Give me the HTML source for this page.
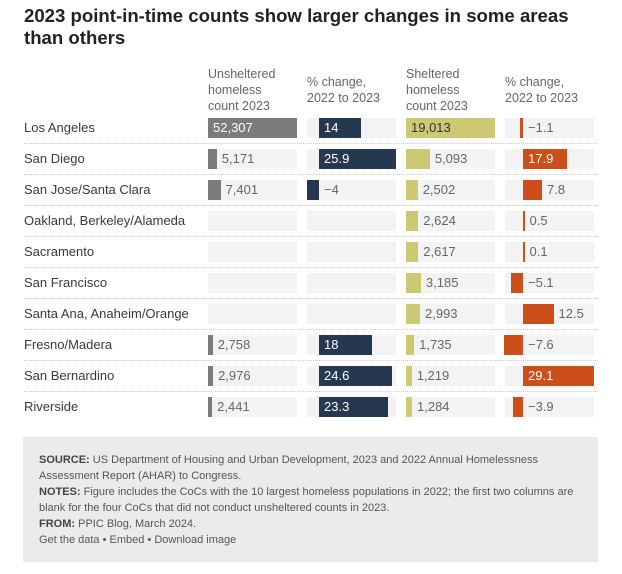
<!DOCTYPE html>
<html><head><meta charset="utf-8"><style>
body{margin:0;background:#fff;font-family:"Liberation Sans",sans-serif;}
#c{position:relative;width:622px;height:574px;overflow:hidden;}
.a{position:absolute;}
.t{font-weight:bold;font-size:18.6px;color:#222;left:24px;top:5px;line-height:22px;width:565px;}
.h{font-size:12.5px;color:#666;line-height:16px;top:66px;}
.lab{font-size:13px;color:#3a3a3a;left:24px;line-height:20px;}
.bg{background:#f3f3f3;height:20px;}
.b{height:20px;}
.v{font-size:13px;line-height:20px;color:#666;white-space:nowrap;}
.sep{left:24px;width:574px;border-top:1px dotted #ccc;height:0;}
.f{left:23px;top:437px;width:575px;height:125px;background:#ebebeb;}
.ft{left:39px;top:452px;font-size:11px;line-height:16px;color:#555;width:550px;}
.ft b{color:#444;}
</style></head><body><div id="c">
<div class="a t">2023 point-in-time counts show larger changes in some areas than others</div>
<div class="a h" style="left:208px">Unsheltered<br>homeless<br>count 2023</div>
<div class="a h" style="left:307px;top:74px">% change,<br>2022 to 2023</div>
<div class="a h" style="left:406px">Sheltered<br>homeless<br>count 2023</div>
<div class="a h" style="left:505px;top:74px">% change,<br>2022 to 2023</div>
<div id="rows"></div>
<div class="a f"></div>
<div class="a ft"><b>SOURCE:</b> US Department of Housing and Urban Development, 2023 and 2022 Annual Homelessness Assessment Report (AHAR) to Congress.<br><b>NOTES:</b> Figure includes the CoCs with the 10 largest homeless populations in 2022; the first two columns are blank for the four CoCs that did not conduct unsheltered counts in 2023.<br><b>FROM:</b> PPIC Blog, March 2024.<br>Get the data • Embed • Download image</div>
</div>
<script>
var d=[["Los Angeles",52307,"52,307",14,"14",19013,"19,013",-1.1,"−1.1"],
["San Diego",5171,"5,171",25.9,"25.9",5093,"5,093",17.9,"17.9"],
["San Jose/Santa Clara",7401,"7,401",-4,"−4",2502,"2,502",7.8,"7.8"],
["Oakland, Berkeley/Alameda",null,"",null,"",2624,"2,624",0.5,"0.5"],
["Sacramento",null,"",null,"",2617,"2,617",0.1,"0.1"],
["San Francisco",null,"",null,"",3185,"3,185",-5.1,"−5.1"],
["Santa Ana, Anaheim/Orange",null,"",null,"",2993,"2,993",12.5,"12.5"],
["Fresno/Madera",2758,"2,758",18,"18",1735,"1,735",-7.6,"−7.6"],
["San Bernardino",2976,"2,976",24.6,"24.6",1219,"1,219",29.1,"29.1"],
["Riverside",2441,"2,441",23.3,"23.3",1284,"1,284",-3.9,"−3.9"]];
var h="";
function div(c,s,t){return '<div class="a '+c+'" style="'+s+'">'+(t||"")+'</div>';}
function cnt(x,v,lab,max,col,dark){
 var o=div("bg b","left:"+x+"px;width:89px;top:"+T+"px");
 if(v==null)return o;
 var w=Math.max(2.5,v/max*89);
 o+=div("b","left:"+x+"px;width:"+w+"px;top:"+T+"px;background:"+col);
 if(w>50)o+=div("v","left:"+(x+5)+"px;top:"+T+"px;color:"+(dark?"#fff":"#333"),lab);
 else o+=div("v","left:"+(x+w+5)+"px;top:"+T+"px",lab);
 return o;}
function pct(x,z,sc,v,lab,col){
 var o=div("bg b","left:"+x+"px;width:89px;top:"+T+"px");
 if(v==null)return o;
 var w=Math.max(1.5,Math.abs(v)*sc);var l=v<0?z-w:z;
 o+=div("b","left:"+l+"px;width:"+w+"px;top:"+T+"px;background:"+col);
 if(v>0&&w>38)o+=div("v","left:"+(z+5)+"px;top:"+T+"px;color:#fff",lab);
 else o+=div("v","left:"+((v>0?z+w:z)+5)+"px;top:"+T+"px",lab);
 return o;}
var T;
d.forEach(function(r,i){
 var c=128+31*i;T=c-10;
 h+=div("lab","top:"+T+"px",r[0]);
 h+=cnt(208,r[1],r[2],52307,"#7b7b7b",true);
 h+=pct(307,319,2.97,r[3],r[4],"#263750");
 h+=cnt(406,r[5],r[6],19013,"#cdc872",false);
 h+=pct(505,523,2.44,r[7],r[8],"#cc4e1a");
 if(i<9)h+=div("sep","top:"+(c+15)+"px");
});
document.getElementById("rows").innerHTML=h;
</script>
</body></html>
